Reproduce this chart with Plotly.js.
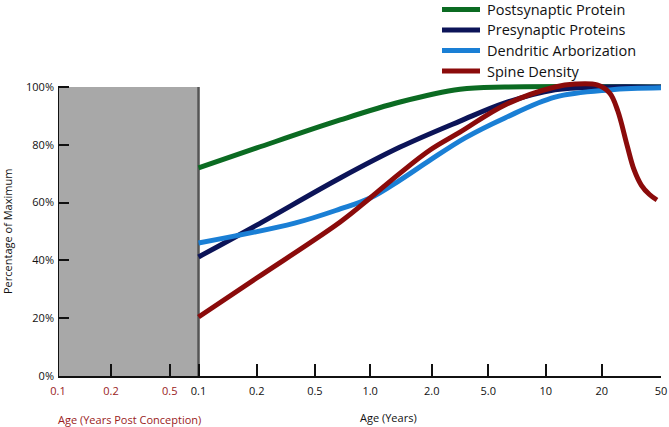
<!DOCTYPE html>
<html>
<head>
<meta charset="utf-8">
<script src="https://cdn.plot.ly/plotly-3.0.1.min.js"></script>
<style>html,body{margin:0;padding:0;background:#fff}#chart{width:669px;height:427px}</style>
</head>
<body>
<div id="chart"></div>
<script>
// Ordinal age positions (axis index units) and tick labels
const prenatalTickPos = [0, 0.92, 1.94];
const prenatalTickText = ["0.1", "0.2", "0.5"];
const postnatalTickPos = [2.44, 3.45, 4.46, 5.42, 6.49, 7.47, 8.47, 9.44, 10.47];
const postnatalTickText = ["0.1", "0.2", "0.5", "1.0", "2.0", "5.0", "10", "20", "50"];
const birthPos = 2.44;
const yTicks = [0, 20, 40, 60, 80, 100];
const yTickText = ["0%", "20%", "40%", "60%", "80%", "100%"];

const seriesNames = ["Postsynaptic Protein", "Presynaptic Proteins", "Dendritic Arborization", "Spine Density"];

const postsynX = [2.44, 3.45, 4.90, 5.94, 6.98, 7.76, 10.47];
const postsynY = [72.0, 78.9, 88.6, 94.8, 99.2, 100, 100];

const presynX = [2.44, 3.45, 4.90, 5.94, 6.98, 7.76, 8.63, 9.41, 10.47];
const presynY = [41.2, 52.2, 68.5, 79.2, 88.2, 94.5, 99.0, 100, 100];

const dendX = [2.44, 4.11, 4.90, 5.42, 5.94, 6.46, 7.07, 7.76, 8.63, 9.58, 10.47];
const dendY = [46.0, 52.9, 57.8, 61.6, 67.8, 74.7, 82.4, 89.3, 96.5, 99.0, 99.7];

const spineX = [2.44, 3.45, 4.90, 5.42, 5.94, 6.46, 6.98, 7.76, 8.63, 8.98, 9.36, 9.58, 9.72, 9.88, 10.00, 10.13, 10.27, 10.40];
const spineY = [20.4, 33.9, 53.3, 61.6, 70.2, 78.2, 84.4, 93.8, 100, 101, 100.7, 97.9, 91.7, 79.9, 71.5, 66.0, 62.8, 60.9];

const colors = ["#0b6b22", "#0c1458", "#1a7fd5", "#8b0b0b"];
const prenatalColor = "#9a1b1b";

const xs = [postsynX, presynX, dendX, spineX];
const ys = [postsynY, presynY, dendY, spineY];

const traces = seriesNames.map((n, i) => ({
  type: "scatter", mode: "lines", name: n,
  x: xs[i], y: ys[i],
  line: {color: colors[i], width: 5, shape: "spline", smoothing: 1},
  hoverinfo: "skip", showlegend: false
}));

const tickvals = prenatalTickPos.concat(postnatalTickPos);
const ticktext = prenatalTickText.map(t => '<span style="color:' + prenatalColor + '">' + t + '</span>')
  .concat(postnatalTickText);

const FONT = "Open Sans, Noto Sans, sans-serif";

// geometry (pixels)
const W = 669, H = 427, ML = 58, MR = 8, MB = 51, MT = 0;
const plotW = W - ML - MR, plotH = H - MB - MT;
const pxPerPct = 2.89;
const yTop = plotH / pxPerPct;

// manual legend in top-right
const legSampleX0 = (442 - ML) / plotW, legSampleX1 = (480 - ML) / plotW, legTextX = (486 - ML) / plotW;
const legRow0 = 9.5, legRowStep = 20.5;
const legendShapes = seriesNames.map((n, i) => ({
  type: "line", xref: "paper", yref: "paper", layer: "above",
  x0: legSampleX0, x1: legSampleX1,
  y0: 1 - (legRow0 + i * legRowStep) / plotH, y1: 1 - (legRow0 + i * legRowStep) / plotH,
  line: {color: colors[i], width: 5}
}));
const legendTexts = seriesNames.map((n, i) => ({
  text: n, xref: "paper", yref: "paper", x: legTextX, y: 1 - (legRow0 + i * legRowStep) / plotH,
  xanchor: "left", yanchor: "middle", showarrow: false, borderpad: 0,
  font: {family: FONT, size: 14.5, color: "#111"}
}));

const layout = {
  width: W, height: H,
  margin: {l: ML, r: MR, t: MT, b: MB, pad: 0},
  paper_bgcolor: "#fff", plot_bgcolor: "#fff",
  font: {family: FONT, size: 11, color: "#111"},
  showlegend: false,
  xaxis: {
    range: [0, 10.47], showgrid: false, zeroline: false,
    showline: true, linecolor: "#111", linewidth: 2,
    tickmode: "array", tickvals: tickvals, ticktext: ticktext,
    ticks: "inside", ticklen: 12, tickwidth: 2, tickcolor: "#111",
    tickfont: {family: FONT, size: 11, color: "#111"},
    ticklabelstandoff: 4,
    fixedrange: true
  },
  yaxis: {
    range: [0, yTop], showgrid: false, zeroline: false, showline: false,
    tickmode: "array", tickvals: yTicks, ticktext: yTickText,
    ticks: "inside", ticklen: 11, tickwidth: 2, tickcolor: "#111",
    tickfont: {family: FONT, size: 11, color: "#111"},
    ticklabelstandoff: 3,
    fixedrange: true
  },
  shapes: [
    {type: "rect", layer: "below", xref: "x", yref: "y", x0: 0, x1: birthPos, y0: 0, y1: 100,
     fillcolor: "#a8a8a8", line: {width: 0}},
    {type: "line", layer: "below", xref: "x", yref: "y", x0: birthPos, x1: birthPos, y0: 0, y1: 100,
     line: {color: "#555", width: 2.5}},
    {type: "line", layer: "above", xref: "x", yref: "y", x0: 0, x1: 0, y0: 0, y1: 100,
     line: {color: "#111", width: 2}}
  ].concat(legendShapes),
  annotations: [
    {text: "Percentage of Maximum", xref: "paper", yref: "y", x: 0, y: 50,
     xanchor: "center", yanchor: "middle", xshift: -50.5, textangle: -90, showarrow: false,
     font: {family: FONT, size: 11, color: "#111"}},
    {text: "Age (Years)", xref: "x", yref: "paper", x: 5.73, y: 0,
     xanchor: "center", yanchor: "middle", yshift: -41, showarrow: false,
     font: {family: FONT, size: 11, color: "#111"}},
    {text: "Age (Years Post Conception)", xref: "x", yref: "paper", x: 1.25, y: 0,
     xanchor: "center", yanchor: "middle", yshift: -43, showarrow: false,
     font: {family: FONT, size: 11, color: prenatalColor}}
  ].concat(legendTexts)
};

Plotly.newPlot("chart", traces, layout, {displayModeBar: false, staticPlot: true});
</script>
</body>
</html>
